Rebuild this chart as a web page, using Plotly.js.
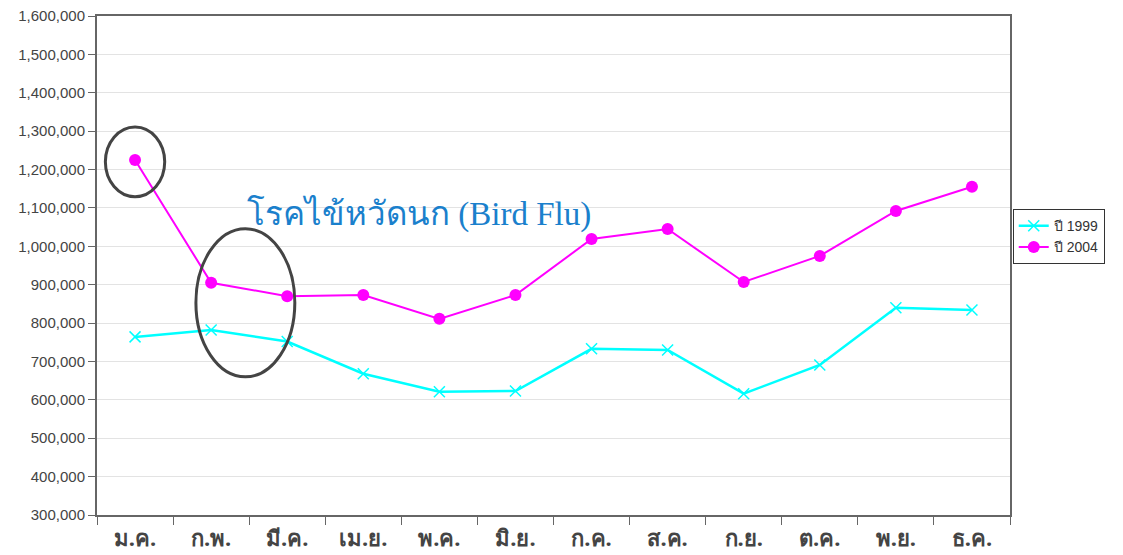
<!DOCTYPE html>
<html>
<head>
<meta charset="utf-8">
<script src="https://cdn.plot.ly/plotly-3.0.1.min.js"></script>
<style>html,body{margin:0;padding:0;background:#fff;}#chart{width:1123px;height:555px;}</style>
</head>
<body>
<div id="chart"></div>
<script>
var months = ['ม.ค.','ก.พ.','มี.ค.','เม.ย.','พ.ค.','มิ.ย.','ก.ค.','ส.ค.','ก.ย.','ต.ค.','พ.ย.','ธ.ค.'];
var values1999 = [764000, 782000, 752000, 668000, 621000, 623000, 733000, 730000, 616000, 691000, 840000, 834000];
var values2004 = [1225000, 905000, 870000, 873000, 811000, 873000, 1019000, 1045000, 907000, 975000, 1092000, 1155000];
var seriesNames = ['ปี 1999', 'ปี 2004'];
var yTicks = [300000,400000,500000,600000,700000,800000,900000,1000000,1100000,1200000,1300000,1400000,1500000,1600000];
var annotationText = 'โรคไข้หวัดนก (Bird Flu)';

var traces = [
  {x: months, y: values1999, name: seriesNames[0], type: 'scatter', mode: 'lines+markers',
   line: {color: '#00ffff', width: 2.5},
   marker: {symbol: 'x-thin', size: 11, line: {color: '#00ffff', width: 1.5}, color: '#00ffff'}},
  {x: months, y: values2004, name: seriesNames[1], type: 'scatter', mode: 'lines+markers',
   line: {color: '#ff00ff', width: 2},
   marker: {symbol: 'circle', size: 12, color: '#ff00ff'}}
];

var layout = {
  width: 1123, height: 555,
  margin: {l: 97, r: 113, t: 16, b: 40},
  paper_bgcolor: '#fff', plot_bgcolor: '#fff',
  showlegend: true,
  legend: {x: 1.003, y: 0.613, xanchor: 'left', yanchor: 'top',
    bordercolor: '#333', borderwidth: 1, bgcolor: '#fff',
    font: {family: 'Liberation Sans, Arial, sans-serif', size: 14, color: '#333'},
    tracegroupgap: 0, itemwidth: 30},
  xaxis: {type: 'category', range: [-0.5, 11.5], showgrid: false,
    showline: true, linecolor: '#666', linewidth: 2, mirror: true,
    ticks: 'outside', ticklen: 8, tickcolor: '#666', tickson: 'boundaries',
    ticklabelstandoff: 3,
    tickfont: {family: 'Noto Sans, DejaVu Sans, sans-serif', size: 22, color: '#444', weight: 'bold'},
    fixedrange: true},
  yaxis: {range: [300000, 1600000], tickvals: yTicks, tickformat: ',d',
    showgrid: true, gridcolor: '#e3e3e3', gridwidth: 1,
    showline: true, linecolor: '#666', linewidth: 2, mirror: true,
    ticks: 'outside', ticklen: 7, tickcolor: '#666',
    tickfont: {family: 'Liberation Sans, Arial, sans-serif', size: 15, color: '#444'},
    zeroline: false, fixedrange: true},
  shapes: [
    {type: 'circle', xref: 'x', yref: 'y', x0: -0.39, x1: 0.39, y0: 1129000, y1: 1311000,
     line: {color: '#444', width: 3}},
    {type: 'circle', xref: 'x', yref: 'y', x0: 0.80, x1: 2.10, y0: 660000, y1: 1046000,
     line: {color: '#444', width: 3}}
  ],
  annotations: [
    {text: annotationText, xref: 'x', yref: 'y', x: 3.73, y: 1085000, showarrow: false,
     xanchor: 'center', yanchor: 'middle',
     font: {family: 'Liberation Serif, Times New Roman, serif', size: 33, color: '#1a80cc'}}
  ]
};

Plotly.newPlot('chart', traces, layout, {displayModeBar: false, staticPlot: true});
</script>
</body>
</html>
